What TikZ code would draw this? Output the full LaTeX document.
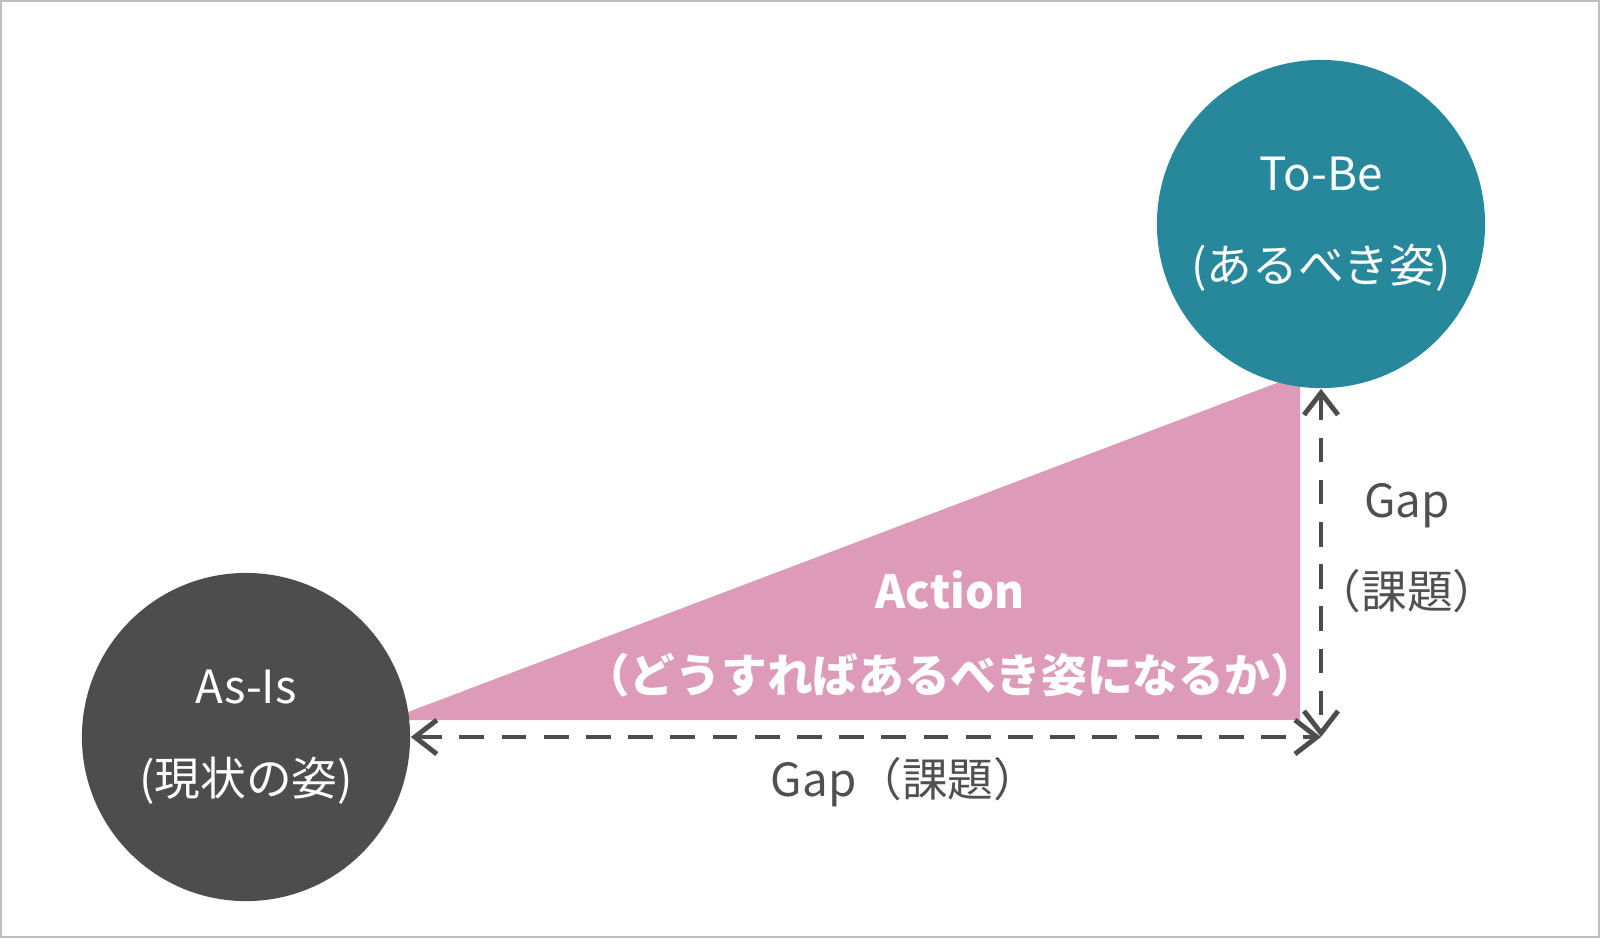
\documentclass[tikz,border=0pt]{standalone}
\usepackage{fontspec}
\setmainfont{Noto Sans CJK JP}
\usetikzlibrary{arrows.meta,positioning}
\definecolor{asisgray}{HTML}{4D4D4D}
\definecolor{tobeteal}{HTML}{27889C}
\definecolor{actionpink}{HTML}{DE9BB9}
\definecolor{gaptext}{HTML}{505050}

\begin{document}
\begin{tikzpicture}[x=0.01cm, y=-0.01cm,
    state/.style={circle, minimum size=3.28cm, inner sep=0pt, align=center, text=white, font=\fontsize{13}{26}\selectfont},
    gaparrow/.style={{Straight Barb[length=2.2mm,width=3.4mm]}-{Straight Barb[length=2.2mm,width=3.4mm]}, dashed, dash pattern=on 7pt off 5pt, line width=1.4pt, asisgray},
    gaplabel/.style={text=gaptext, font=\fontsize{13}{26}\selectfont, align=center}
]
\useasboundingbox (0,0) rectangle (1600,938);
\draw[gray!50, line width=0.6pt] (1,1) rectangle (1599,937);

% Action triangle
\fill[actionpink] (408,712) -- (1290,378) -- (1300,380) -- (1300,720) -- (408,720) -- cycle;
\node[text=white, font=\fontsize{13}{24}\selectfont\bfseries, align=center] (action) at (950,634)
  {Action\\（どうすればあるべき姿になるか）};

% states
\node[state, fill=asisgray] (asis) at (246,737) {As-Is\\(現状の姿)};
\node[state, fill=tobeteal] (tobe) at (1321,224) {To-Be\\(あるべき姿)};

% gaps
\coordinate (corner) at (1321,737);
\draw[gaparrow] (asis.east) -- (corner);
\draw[gaparrow] (tobe.south) -- (corner);
\node[gaplabel] (hgap) at (905,782) {Gap（課題）};
\node[gaplabel] (vgap) at (1407,548) {Gap\\（課題）};
\end{tikzpicture}
\end{document}
